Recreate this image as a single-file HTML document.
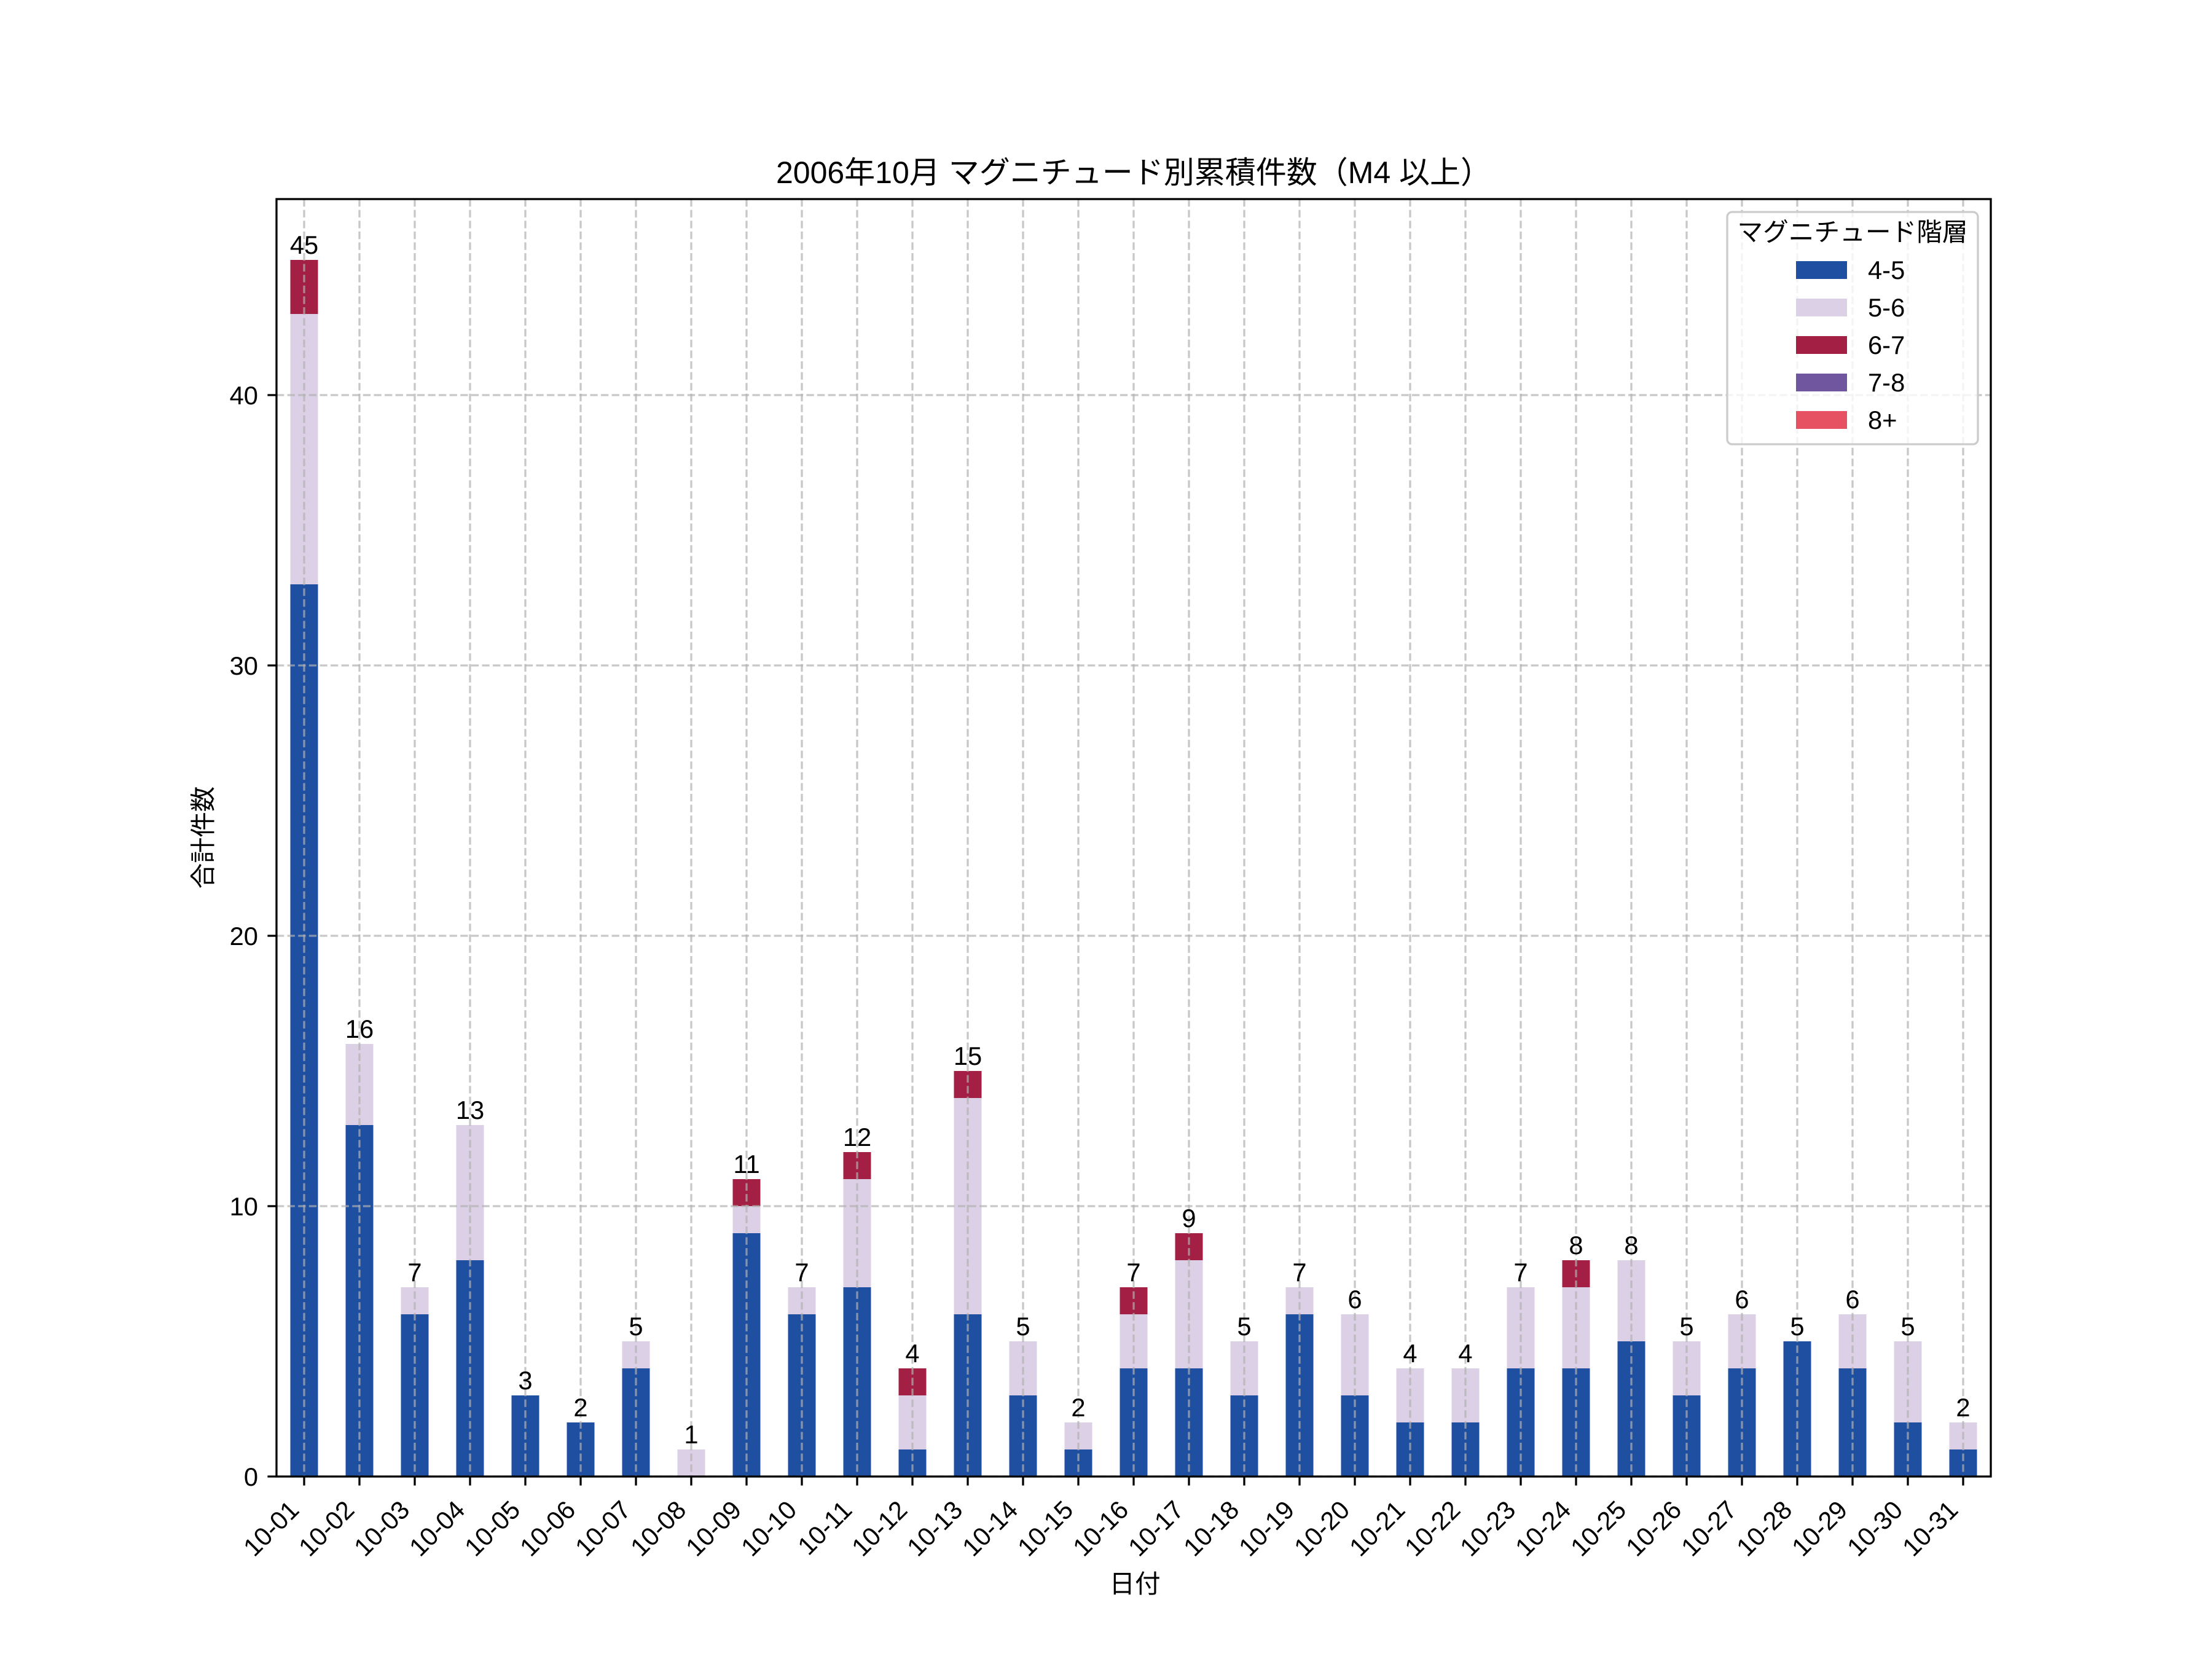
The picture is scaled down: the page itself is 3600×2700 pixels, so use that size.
<!DOCTYPE html>
<html><head><meta charset="utf-8"><style>
html,body{margin:0;padding:0;background:#fff}
svg{display:block}
text{font-family:"Liberation Sans","Noto Sans CJK JP",sans-serif;fill:#000}
</style></head><body>
<svg width="3600" height="2700" viewBox="0 0 3600 2700" xmlns="http://www.w3.org/2000/svg">
<rect width="3600" height="2700" fill="#fff"/>
<g>
<!-- bars -->
<g fill="#1f4fa0">
<rect x="472.5" y="951" width="45" height="1452"/>
<rect x="562.5" y="1831" width="45" height="572"/>
<rect x="652.5" y="2139" width="45" height="264"/>
<rect x="742.5" y="2051" width="45" height="352"/>
<rect x="832.5" y="2271" width="45" height="132"/>
<rect x="922.5" y="2315" width="45" height="88"/>
<rect x="1012.5" y="2227" width="45" height="176"/>
<rect x="1192.5" y="2007" width="45" height="396"/>
<rect x="1282.5" y="2139" width="45" height="264"/>
<rect x="1372.5" y="2095" width="45" height="308"/>
<rect x="1462.5" y="2359" width="45" height="44"/>
<rect x="1552.5" y="2139" width="45" height="264"/>
<rect x="1642.5" y="2271" width="45" height="132"/>
<rect x="1732.5" y="2359" width="45" height="44"/>
<rect x="1822.5" y="2227" width="45" height="176"/>
<rect x="1912.5" y="2227" width="45" height="176"/>
<rect x="2002.5" y="2271" width="45" height="132"/>
<rect x="2092.5" y="2139" width="45" height="264"/>
<rect x="2182.5" y="2271" width="45" height="132"/>
<rect x="2272.5" y="2315" width="45" height="88"/>
<rect x="2362.5" y="2315" width="45" height="88"/>
<rect x="2452.5" y="2227" width="45" height="176"/>
<rect x="2542.5" y="2227" width="45" height="176"/>
<rect x="2632.5" y="2183" width="45" height="220"/>
<rect x="2722.5" y="2271" width="45" height="132"/>
<rect x="2812.5" y="2227" width="45" height="176"/>
<rect x="2902.5" y="2183" width="45" height="220"/>
<rect x="2992.5" y="2227" width="45" height="176"/>
<rect x="3082.5" y="2315" width="45" height="88"/>
<rect x="3172.5" y="2359" width="45" height="44"/>
</g>
<g fill="#dbd0e5">
<rect x="472.5" y="511" width="45" height="440"/>
<rect x="562.5" y="1699" width="45" height="132"/>
<rect x="652.5" y="2095" width="45" height="44"/>
<rect x="742.5" y="1831" width="45" height="220"/>
<rect x="1012.5" y="2183" width="45" height="44"/>
<rect x="1102.5" y="2359" width="45" height="44"/>
<rect x="1192.5" y="1963" width="45" height="44"/>
<rect x="1282.5" y="2095" width="45" height="44"/>
<rect x="1372.5" y="1919" width="45" height="176"/>
<rect x="1462.5" y="2271" width="45" height="88"/>
<rect x="1552.5" y="1787" width="45" height="352"/>
<rect x="1642.5" y="2183" width="45" height="88"/>
<rect x="1732.5" y="2315" width="45" height="44"/>
<rect x="1822.5" y="2139" width="45" height="88"/>
<rect x="1912.5" y="2051" width="45" height="176"/>
<rect x="2002.5" y="2183" width="45" height="88"/>
<rect x="2092.5" y="2095" width="45" height="44"/>
<rect x="2182.5" y="2139" width="45" height="132"/>
<rect x="2272.5" y="2227" width="45" height="88"/>
<rect x="2362.5" y="2227" width="45" height="88"/>
<rect x="2452.5" y="2095" width="45" height="132"/>
<rect x="2542.5" y="2095" width="45" height="132"/>
<rect x="2632.5" y="2051" width="45" height="132"/>
<rect x="2722.5" y="2183" width="45" height="88"/>
<rect x="2812.5" y="2139" width="45" height="88"/>
<rect x="2992.5" y="2139" width="45" height="88"/>
<rect x="3082.5" y="2183" width="45" height="132"/>
<rect x="3172.5" y="2315" width="45" height="44"/>
</g>
<g fill="#a32044">
<rect x="472.5" y="423" width="45" height="88"/>
<rect x="1192.5" y="1919" width="45" height="44"/>
<rect x="1372.5" y="1875" width="45" height="44"/>
<rect x="1462.5" y="2227" width="45" height="44"/>
<rect x="1552.5" y="1743" width="45" height="44"/>
<rect x="1822.5" y="2095" width="45" height="44"/>
<rect x="1912.5" y="2007" width="45" height="44"/>
<rect x="2542.5" y="2051" width="45" height="44"/>
</g>
<!-- grid -->
<g stroke="#b0b0b0" stroke-opacity="0.7" stroke-width="3.3" stroke-dasharray="12.3 5.3" fill="none">
<path d="M450 2403H3240M450 1963H3240M450 1523H3240M450 1083H3240M450 643H3240"/>
<path d="M495 324V2403M585 324V2403M675 324V2403M765 324V2403M855 324V2403M945 324V2403M1035 324V2403M1125 324V2403M1215 324V2403M1305 324V2403M1395 324V2403M1485 324V2403M1575 324V2403M1665 324V2403M1755 324V2403M1845 324V2403M1935 324V2403M2025 324V2403M2115 324V2403M2205 324V2403M2295 324V2403M2385 324V2403M2475 324V2403M2565 324V2403M2655 324V2403M2745 324V2403M2835 324V2403M2925 324V2403M3015 324V2403M3105 324V2403M3195 324V2403"/>
</g>
<!-- bar labels -->
<g font-size="41.7" text-anchor="middle">
<text x="495" y="413">45</text><text x="585" y="1689">16</text><text x="675" y="2085">7</text><text x="765" y="1821">13</text>
<text x="855" y="2261">3</text><text x="945" y="2305">2</text><text x="1035" y="2173">5</text><text x="1125" y="2349">1</text>
<text x="1215" y="1909">11</text><text x="1305" y="2085">7</text><text x="1395" y="1865">12</text><text x="1485" y="2217">4</text>
<text x="1575" y="1733">15</text><text x="1665" y="2173">5</text><text x="1755" y="2305">2</text><text x="1845" y="2085">7</text>
<text x="1935" y="1997">9</text><text x="2025" y="2173">5</text><text x="2115" y="2085">7</text><text x="2205" y="2129">6</text>
<text x="2295" y="2217">4</text><text x="2385" y="2217">4</text><text x="2475" y="2085">7</text><text x="2565" y="2041">8</text>
<text x="2655" y="2041">8</text><text x="2745" y="2173">5</text><text x="2835" y="2129">6</text><text x="2925" y="2173">5</text>
<text x="3015" y="2129">6</text><text x="3105" y="2173">5</text><text x="3195" y="2305">2</text>
</g>
<!-- axes frame -->
<rect x="450" y="324" width="2790" height="2079" fill="none" stroke="#000" stroke-width="3.3"/>
<!-- y ticks -->
<g stroke="#000" stroke-width="3.3">
<path d="M435.4 2403H450M435.4 1963H450M435.4 1523H450M435.4 1083H450M435.4 643H450"/>
<path d="M495 2403v14.6M585 2403v14.6M675 2403v14.6M765 2403v14.6M855 2403v14.6M945 2403v14.6M1035 2403v14.6M1125 2403v14.6M1215 2403v14.6M1305 2403v14.6M1395 2403v14.6M1485 2403v14.6M1575 2403v14.6M1665 2403v14.6M1755 2403v14.6M1845 2403v14.6M1935 2403v14.6M2025 2403v14.6M2115 2403v14.6M2205 2403v14.6M2295 2403v14.6M2385 2403v14.6M2475 2403v14.6M2565 2403v14.6M2655 2403v14.6M2745 2403v14.6M2835 2403v14.6M2925 2403v14.6M3015 2403v14.6M3105 2403v14.6M3195 2403v14.6"/>
</g>
<g font-size="41.7" text-anchor="end">
<text x="420" y="2418">0</text><text x="420" y="1978">10</text><text x="420" y="1538">20</text><text x="420" y="1098">30</text><text x="420" y="658">40</text>
</g>
<!-- x tick labels -->
<g font-size="41.7" text-anchor="end">
<text transform="translate(489,2460) rotate(-45)">10-01</text>
<text transform="translate(579,2460) rotate(-45)">10-02</text>
<text transform="translate(669,2460) rotate(-45)">10-03</text>
<text transform="translate(759,2460) rotate(-45)">10-04</text>
<text transform="translate(849,2460) rotate(-45)">10-05</text>
<text transform="translate(939,2460) rotate(-45)">10-06</text>
<text transform="translate(1029,2460) rotate(-45)">10-07</text>
<text transform="translate(1119,2460) rotate(-45)">10-08</text>
<text transform="translate(1209,2460) rotate(-45)">10-09</text>
<text transform="translate(1299,2460) rotate(-45)">10-10</text>
<text transform="translate(1389,2460) rotate(-45)">10-11</text>
<text transform="translate(1479,2460) rotate(-45)">10-12</text>
<text transform="translate(1569,2460) rotate(-45)">10-13</text>
<text transform="translate(1659,2460) rotate(-45)">10-14</text>
<text transform="translate(1749,2460) rotate(-45)">10-15</text>
<text transform="translate(1839,2460) rotate(-45)">10-16</text>
<text transform="translate(1929,2460) rotate(-45)">10-17</text>
<text transform="translate(2019,2460) rotate(-45)">10-18</text>
<text transform="translate(2109,2460) rotate(-45)">10-19</text>
<text transform="translate(2199,2460) rotate(-45)">10-20</text>
<text transform="translate(2289,2460) rotate(-45)">10-21</text>
<text transform="translate(2379,2460) rotate(-45)">10-22</text>
<text transform="translate(2469,2460) rotate(-45)">10-23</text>
<text transform="translate(2559,2460) rotate(-45)">10-24</text>
<text transform="translate(2649,2460) rotate(-45)">10-25</text>
<text transform="translate(2739,2460) rotate(-45)">10-26</text>
<text transform="translate(2829,2460) rotate(-45)">10-27</text>
<text transform="translate(2919,2460) rotate(-45)">10-28</text>
<text transform="translate(3009,2460) rotate(-45)">10-29</text>
<text transform="translate(3099,2460) rotate(-45)">10-30</text>
<text transform="translate(3189,2460) rotate(-45)">10-31</text>
</g>
<!-- labels -->
<text x="1845" y="298" font-size="50" text-anchor="middle">2006年10月 マグニチュード別累積件数（M4 以上）</text>
<text x="1847" y="2592" font-size="41.7" text-anchor="middle">日付</text>
<text transform="translate(345,1363) rotate(-90)" font-size="41.7" text-anchor="middle">合計件数</text>
<!-- legend -->
<rect x="2811" y="345" width="408" height="378" rx="8" fill="#fff" fill-opacity="0.8" stroke="#cccccc" stroke-width="3.3"/>
<text x="3015" y="392" font-size="41.7" text-anchor="middle">マグニチュード階層</text>
<rect x="2923" y="425" width="83" height="29" fill="#1f4fa0"/>
<rect x="2923" y="486" width="83" height="29" fill="#dbd0e5"/>
<rect x="2923" y="547" width="83" height="29" fill="#a32044"/>
<rect x="2923" y="608" width="83" height="29" fill="#70569e"/>
<rect x="2923" y="669" width="83" height="29" fill="#e75263"/>
<g font-size="41.7">
<text x="3040" y="454">4-5</text>
<text x="3040" y="515">5-6</text>
<text x="3040" y="576">6-7</text>
<text x="3040" y="637">7-8</text>
<text x="3040" y="698">8+</text>
</g>
</g>
</svg>
</body></html>
